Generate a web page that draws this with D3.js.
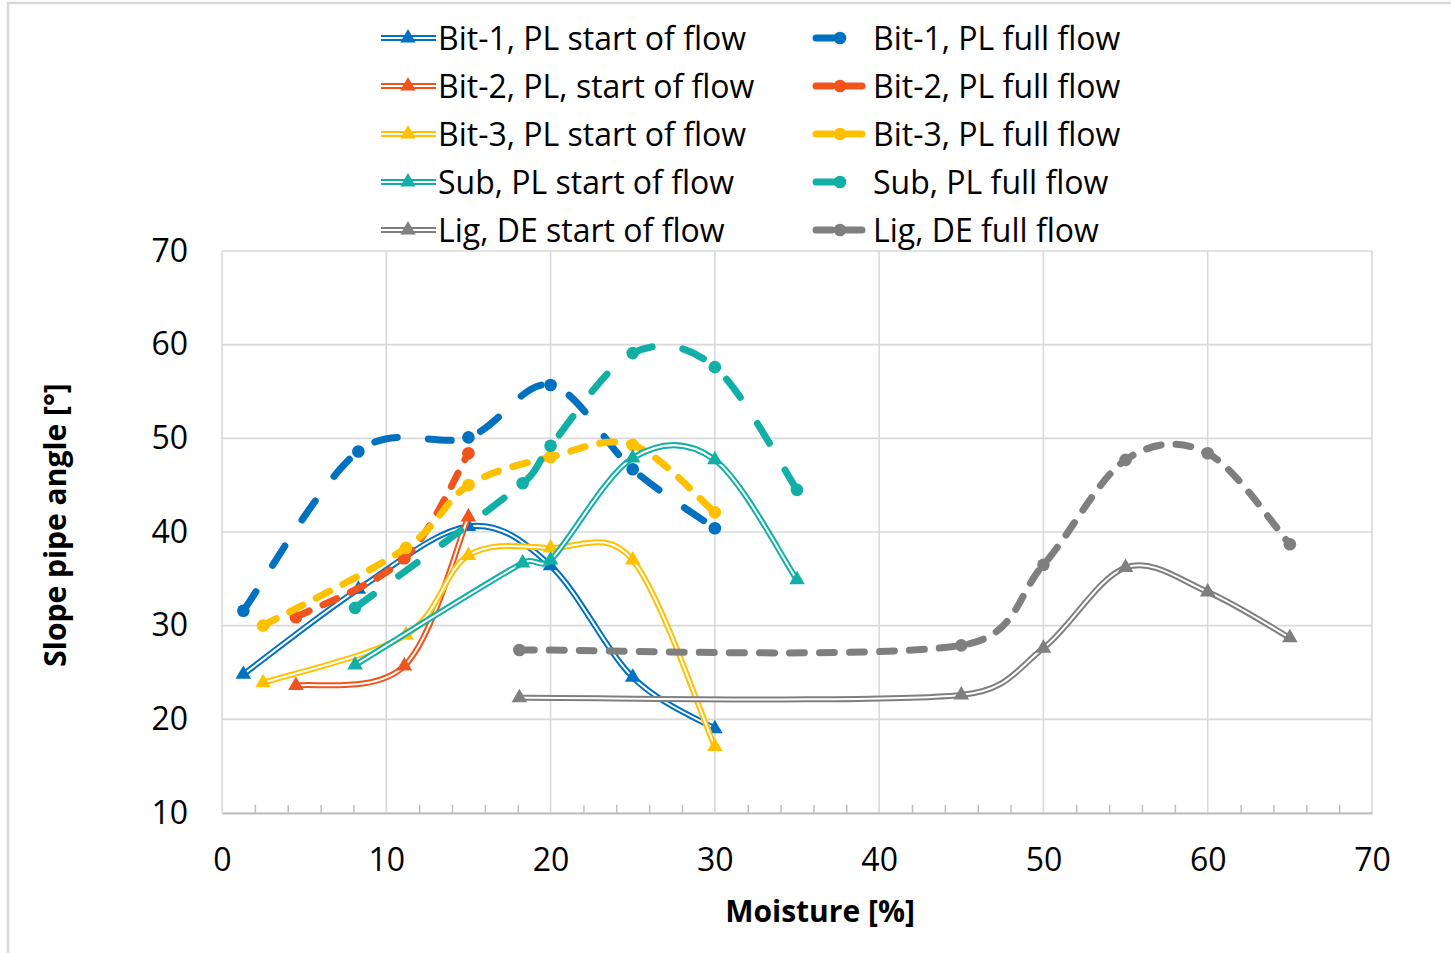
<!DOCTYPE html>
<html>
<head>
<meta charset="utf-8">
<script src="https://cdn.jsdelivr.net/npm/d3@7"></script>
<style>
  body { margin: 0; background: #fff; }
  svg { display: block; font-family: 'Open Sans', sans-serif; }
</style>
</head>
<body>
<svg id="chart" width="1451" height="953"></svg>
<script>
// Moisture [%] of each material and the measured slope pipe angles [°]
const moistureBit1 = [1.3, 8.3, 15, 20, 25, 30];
const startBit1    = [24.8, 33.9, 40.6, 36.4, 24.5, 19.0];
const fullBit1     = [31.6, 48.6, 50.1, 55.7, 46.7, 40.4];

const moistureBit2 = [4.5, 11.1, 15];
const startBit2    = [23.6, 25.7, 41.6];
const fullBit2     = [30.9, 37.2, 48.4];

const moistureBit3 = [2.5, 11.2, 15, 20, 25, 30];
const startBit3    = [23.9, 29.0, 37.5, 38.3, 37.0, 17.1];
const fullBit3     = [30.0, 38.3, 45.0, 48.0, 49.3, 42.1];

const moistureSub  = [8.1, 18.3, 20, 25, 30, 35];
const startSub     = [25.8, 36.7, 37.0, 47.9, 47.7, 34.9];
const fullSub      = [31.9, 45.2, 49.2, 59.1, 57.6, 44.5];

const moistureLig  = [18.1, 45, 50, 55, 60, 65];
const startLig     = [22.3, 22.6, 27.6, 36.2, 33.6, 28.7];
const fullLig      = [27.4, 27.9, 36.5, 47.7, 48.4, 38.7];

const xTicks = [0, 10, 20, 30, 40, 50, 60, 70];
const yTicks = [10, 20, 30, 40, 50, 60, 70];

const seriesNames = [
  "Bit-1, PL start of flow", "Bit-1, PL full flow",
  "Bit-2, PL, start of flow", "Bit-2, PL full flow",
  "Bit-3, PL start of flow", "Bit-3, PL full flow",
  "Sub, PL start of flow", "Sub, PL full flow",
  "Lig, DE start of flow", "Lig, DE full flow"
];

const colors = { bit1: "#0070C0", bit2: "#F0531C", bit3: "#FFC000", sub: "#12AFA7", lig: "#7F7F7F" };
const DASH = "15,15";
const LONG_DASH = "23,31";

const zip = (xs, ys) => xs.map((v, i) => [v, ys[i]]);

const series = [
  { name: seriesNames[0], kind: "start", color: colors.bit1, pts: zip(moistureBit1, startBit1) },
  { name: seriesNames[1], kind: "full", color: colors.bit1, dash: LONG_DASH, pts: zip(moistureBit1, fullBit1) },
  { name: seriesNames[2], kind: "start", color: colors.bit2, pts: zip(moistureBit2, startBit2) },
  { name: seriesNames[3], kind: "full", color: colors.bit2, dash: DASH, pts: zip(moistureBit2, fullBit2) },
  { name: seriesNames[4], kind: "start", color: colors.bit3, pts: zip(moistureBit3, startBit3) },
  { name: seriesNames[5], kind: "full", color: colors.bit3, dash: DASH, pts: zip(moistureBit3, fullBit3) },
  { name: seriesNames[6], kind: "start", color: colors.sub, pts: zip(moistureSub, startSub) },
  { name: seriesNames[7], kind: "full", color: colors.sub, dash: LONG_DASH, pts: zip(moistureSub, fullSub) },
  { name: seriesNames[8], kind: "start", color: colors.lig, pts: zip(moistureLig, startLig) },
  { name: seriesNames[9], kind: "full", color: colors.lig, dash: DASH, pts: zip(moistureLig, fullLig) }
];

const svg = d3.select("#chart");
const W = 1451, H = 953;
const plot = { left: 222, right: 1372, top: 251, bottom: 813 };

const x = d3.scaleLinear().domain([0, 70]).range([plot.left, plot.right]);
const y = d3.scaleLinear().domain([10, 70]).range([plot.bottom, plot.top]);

// outer chart frame
svg.append("path")
  .attr("d", `M8,${H} L8,3 L${W},3`)
  .attr("fill", "none").attr("stroke", "#d9d9d9").attr("stroke-width", 2.5);

// gridlines
const grid = svg.append("g");
grid.selectAll("line.h").data(yTicks).join("line")
  .attr("x1", plot.left).attr("x2", plot.right)
  .attr("y1", d => y(d)).attr("y2", d => y(d))
  .attr("stroke", "#d9d9d9").attr("stroke-width", 1.6);
grid.selectAll("line.v").data(xTicks).join("line")
  .attr("x1", d => x(d)).attr("x2", d => x(d))
  .attr("y1", plot.top).attr("y2", plot.bottom)
  .attr("stroke", "#d9d9d9").attr("stroke-width", 1.6);

// x axis: line with minor ticks pointing inwards
const minorTicks = d3.range(2, 70, 2).filter(v => v % 10 !== 0);
const xAxisG = svg.append("g").attr("transform", `translate(0,${plot.bottom})`)
  .call(d3.axisBottom(x).tickValues(minorTicks).tickSize(-8).tickSizeOuter(0).tickFormat(""));
xAxisG.select(".domain").attr("stroke", "#bfbfbf").attr("stroke-width", 2);
xAxisG.selectAll(".tick line").attr("stroke", "#bfbfbf").attr("stroke-width", 1.5);

const xLabels = svg.append("g").attr("transform", `translate(0,${plot.bottom})`)
  .call(d3.axisBottom(x).tickValues(xTicks).tickSize(0).tickPadding(35).tickFormat(d3.format("d")));
xLabels.select(".domain").remove();
xLabels.selectAll("text").attr("font-size", 32).attr("fill", "#000")
  .attr("font-family", "'Open Sans', sans-serif");

const yLabels = svg.append("g").attr("transform", `translate(${plot.left},0)`)
  .call(d3.axisLeft(y).tickValues(yTicks).tickSize(0).tickPadding(34).tickFormat(d3.format("d")));
yLabels.select(".domain").remove();
yLabels.selectAll("text").attr("font-size", 32).attr("fill", "#000")
  .attr("font-family", "'Open Sans', sans-serif");

// axis titles
svg.append("text").attr("x", 820).attr("y", 922).attr("text-anchor", "middle")
  .attr("font-size", 30).attr("font-weight", "bold").text("Moisture [%]");
svg.append("text").attr("transform", "translate(66,525) rotate(-90)").attr("text-anchor", "middle")
  .attr("font-size", 30).attr("font-weight", "bold").text("Slope pipe angle [°]");

// Smoothed line: cubic Bezier segments with Catmull-Rom style tangents (1/6),
// handle lengths capped at half of the segment so uneven spacing stays smooth.
function smoothPath(pts) {
  const p = pts.map(d => [x(d[0]), y(d[1])]);
  const path = d3.path();
  const dist = (a, b) => Math.hypot(b[0] - a[0], b[1] - a[1]);
  path.moveTo(p[0][0], p[0][1]);
  for (let i = 0; i < p.length - 1; i++) {
    const p0 = p[Math.max(i - 1, 0)], p1 = p[i], p2 = p[i + 1], p3 = p[Math.min(i + 2, p.length - 1)];
    const d12 = dist(p1, p2), d02 = dist(p0, p2), d13 = dist(p1, p3);
    let f1 = 1 / 6, f2 = 1 / 6;
    if (d02 / 6 > d12 / 2) f1 = (d12 / 2) / d02;
    if (d13 / 6 > d12 / 2) f2 = (d12 / 2) / d13;
    const c1 = [p1[0] + (p2[0] - p0[0]) * f1, p1[1] + (p2[1] - p0[1]) * f1];
    const c2 = [p2[0] - (p3[0] - p1[0]) * f2, p2[1] - (p3[1] - p1[1]) * f2];
    path.bezierCurveTo(c1[0], c1[1], c2[0], c2[1], p2[0], p2[1]);
  }
  return path.toString();
}

const tri = d3.symbol().type(d3.symbolTriangle).size(105);

const marks = svg.append("g");
series.forEach(s => {
  const g = marks.append("g");
  const d = smoothPath(s.pts);
  if (s.kind === "start") {
    g.append("path").attr("d", d).attr("fill", "none")
      .attr("stroke", s.color).attr("stroke-width", 6);
    g.append("path").attr("d", d).attr("fill", "none")
      .attr("stroke", "#fff").attr("stroke-width", 2);
    g.selectAll("path.m").data(s.pts).join("path").attr("class", "m")
      .attr("d", tri).attr("fill", s.color)
      .attr("transform", v => `translate(${x(v[0])},${y(v[1])})`);
  } else {
    g.append("path").attr("d", d).attr("fill", "none")
      .attr("stroke", s.color).attr("stroke-width", 7)
      .attr("stroke-dasharray", s.dash).attr("stroke-linecap", "round");
    g.selectAll("circle").data(s.pts).join("circle")
      .attr("cx", v => x(v[0])).attr("cy", v => y(v[1])).attr("r", 6.3)
      .attr("fill", s.color);
  }
});

// legend, two columns filled row by row
const legend = svg.append("g");
series.forEach((s, i) => {
  const row = Math.floor(i / 2);
  const cy = 38 + row * 48;
  const g = legend.append("g");
  if (s.kind === "start") {
    g.append("line").attr("x1", 381).attr("x2", 436).attr("y1", cy).attr("y2", cy)
      .attr("stroke", s.color).attr("stroke-width", 6);
    g.append("line").attr("x1", 381).attr("x2", 436).attr("y1", cy).attr("y2", cy)
      .attr("stroke", "#fff").attr("stroke-width", 2);
    g.append("path").attr("d", tri).attr("fill", s.color)
      .attr("transform", `translate(408,${cy})`);
    g.append("text").attr("x", 438).attr("y", cy + 12).attr("font-size", 32).text(s.name);
  } else {
    g.append("line").attr("x1", 816).attr("x2", 864).attr("y1", cy).attr("y2", cy)
      .attr("stroke", s.color).attr("stroke-width", 7)
      .attr("stroke-dasharray", s.dash === DASH ? "16,14" : s.dash).attr("stroke-linecap", "round");
    g.append("circle").attr("cx", 840).attr("cy", cy).attr("r", 6.3).attr("fill", s.color);
    g.append("text").attr("x", 873).attr("y", cy + 12).attr("font-size", 32).text(s.name);
  }
});
</script>
</body>
</html>
